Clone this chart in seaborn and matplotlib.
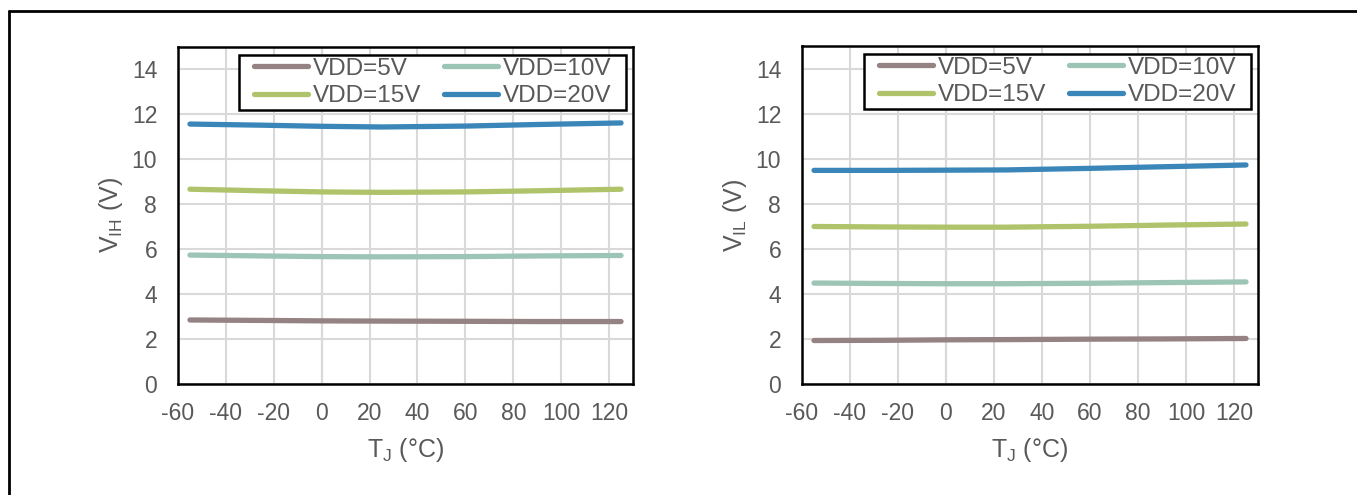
import numpy as np
import pandas as pd
import seaborn as sns
import matplotlib.pyplot as plt
from matplotlib.lines import Line2D
from matplotlib.patches import Rectangle

## data
temps = [-55, -25, 0, 25, 60, 90, 125]
series = ["VDD=5V", "VDD=10V", "VDD=15V", "VDD=20V"]

vih_5v = [2.85, 2.83, 2.81, 2.80, 2.79, 2.78, 2.78]
vih_10v = [5.74, 5.70, 5.67, 5.66, 5.67, 5.70, 5.72]
vih_15v = [8.67, 8.60, 8.55, 8.53, 8.55, 8.60, 8.67]
vih_20v = [11.57, 11.52, 11.47, 11.44, 11.48, 11.55, 11.62]

vil_5v = [1.93, 1.94, 1.96, 1.97, 1.99, 2.00, 2.02]
vil_10v = [4.48, 4.46, 4.45, 4.45, 4.47, 4.50, 4.53]
vil_15v = [6.99, 6.97, 6.96, 6.96, 7.00, 7.05, 7.10]
vil_20v = [9.48, 9.48, 9.49, 9.50, 9.57, 9.64, 9.72]

colors = ["#958283", "#9DC5B6", "#AEC36A", "#3B86B8"]
xticks = np.arange(-60, 121, 20)
yticks = np.arange(0, 15, 2)


def long_df(cols):
    rows = []
    for name, vals in zip(series, cols):
        for t, v in zip(temps, vals):
            rows.append({"T": t, "V": v, "VDD": name})
    return pd.DataFrame(rows)


df_vih = long_df([vih_5v, vih_10v, vih_15v, vih_20v])
df_vil = long_df([vil_5v, vil_10v, vil_15v, vil_20v])

sns.set_theme(style="white")
plt.rcParams["font.family"] = ["Liberation Sans", "DejaVu Sans"]
plt.rcParams["mathtext.fontset"] = "custom"
plt.rcParams["mathtext.rm"] = "Liberation Sans"
plt.rcParams["mathtext.it"] = "Liberation Sans:italic"
plt.rcParams["axes.unicode_minus"] = False

txt = "#595959"
pal = dict(zip(series, colors))

fig = plt.figure(figsize=(13.57, 4.95), dpi=100)
W, H = 1357, 495


def make_ax(x0, x1, y0, y1):
    return fig.add_axes([x0 / W, (H - y1) / H, (x1 - x0) / W, (y1 - y0) / H])


ax1 = make_ax(178, 633, 47, 384)
ax2 = make_ax(802, 1258, 46, 384)

legends = []
for ax, df, ylab in [(ax1, df_vih, r"V$_\mathregular{IH}$ (V)"),
                     (ax2, df_vil, r"V$_\mathregular{IL}$ (V)")]:
    ax.set_axisbelow(True)
    ax.grid(True, color="#D9D9D9", lw=1.5)
    sns.lineplot(data=df, x="T", y="V", hue="VDD", palette=pal, lw=3.8,
                 solid_capstyle="round", ax=ax)
    ax.axvline(0, color="#BFBFBF", lw=1.5, zorder=0.5)
    ax.set_xlim(-60, 130)
    ax.set_ylim(0, 15)
    ax.set_xticks(xticks)
    ax.set_yticks(yticks)
    ax.tick_params(length=0, labelsize=16.5, labelcolor=txt)
    ax.tick_params(axis="y", pad=15)
    ax.tick_params(axis="x", pad=13)
    for s in ax.spines.values():
        s.set_visible(True)
        s.set_color("black")
        s.set_linewidth(1.8)
    ax.set_xlabel(r"T$_\mathregular{J}$ (°C)", fontsize=18, color=txt, labelpad=8)
    ax.set_ylabel(ylab, fontsize=18, color=txt, labelpad=5)
    h, l = ax.get_legend_handles_labels()
    # row-wise order like the original: 5V 10V / 15V 20V
    order = [0, 2, 1, 3]
    leg = ax.legend([h[i] for i in order], [l[i] for i in order], ncol=2,
                    loc="upper right", bbox_to_anchor=(0.958, 0.977),
                    fontsize=17.5, frameon=False,
                    handlelength=2.2, handletextpad=0.2, columnspacing=0.95,
                    labelspacing=0.22, borderpad=0.12, borderaxespad=0)
    for line in leg.get_lines():
        line.set_linewidth(3.8)
        line.set_solid_capstyle("round")
    for t in leg.get_texts():
        t.set_color(txt)
    legends.append((ax, leg))

# legend frame: wider side padding than matplotlib's uniform borderpad
fig.canvas.draw()
for ax, leg in legends:
    bb = leg.get_window_extent()
    inv = ax.transAxes.inverted()
    (x0, y0), (x1, y1) = inv.transform([(bb.x0 - 12, bb.y0), (bb.x1 + 12, bb.y1)])
    ax.add_patch(Rectangle((x0, y0), x1 - x0, y1 - y0, transform=ax.transAxes,
                           facecolor="white", edgecolor="black", lw=1.8,
                           zorder=4.9, clip_on=False))

# outer frame (left and top edges only are inside the picture)
fig.add_artist(Line2D([9 / W, 9 / W], [0, (H - 11) / H], color="black", lw=2,
                      transform=fig.transFigure))
fig.add_artist(Line2D([9 / W, 1], [(H - 11) / H, (H - 11) / H], color="black", lw=2,
                      transform=fig.transFigure))

fig.savefig("out.png", dpi=100)
